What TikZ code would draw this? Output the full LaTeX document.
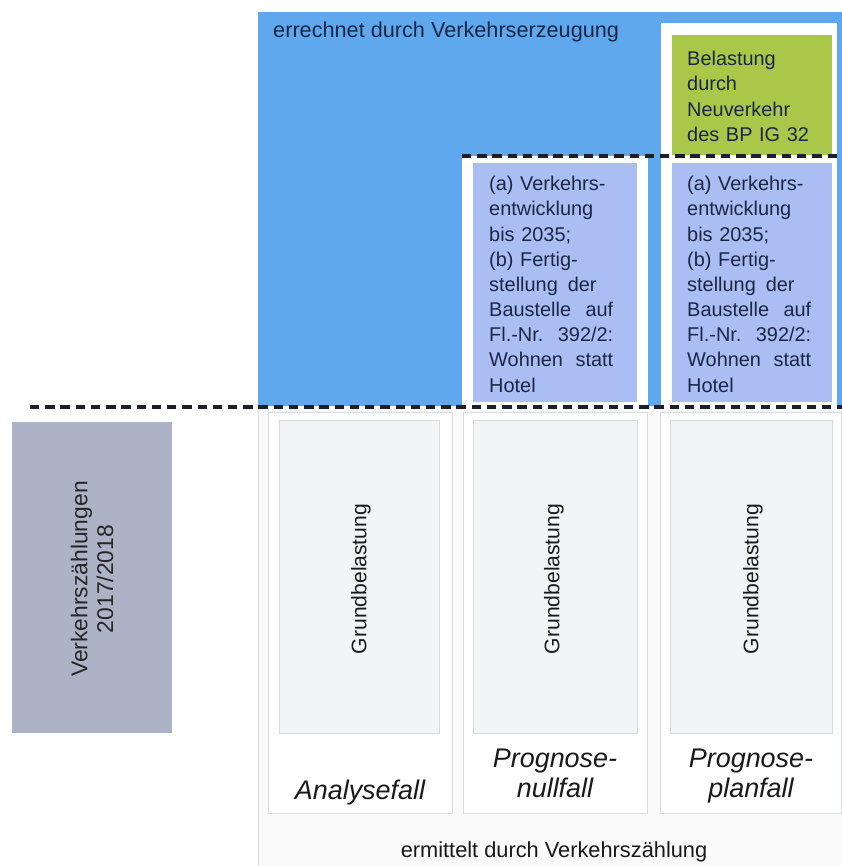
\documentclass[tikz,border=0pt]{standalone}
\usepackage{fontspec}
\setmainfont{Liberation Sans}

\definecolor{calcblue}{HTML}{5FA8EE}
\definecolor{devblue}{HTML}{AABEF3}
\definecolor{newgreen}{HTML}{A9C84A}
\definecolor{countgray}{HTML}{ADB3C6}
\definecolor{lowbg}{HTML}{FAFAFB}
\definecolor{framegray}{HTML}{D9DADD}
\definecolor{innergray}{HTML}{F3F4F6}
\definecolor{navytext}{HTML}{1A2644}
\definecolor{dashgray}{HTML}{1B1F2A}

\tikzset{
  boxtext/.style={anchor=north west, inner sep=0pt, text width=3.72cm, align=left,
    font=\fontsize{17}{21.5}\selectfont, text=navytext},
  grund/.style={rotate=90, inner sep=0pt, font=\fontsize{18}{21}\selectfont, text=black!90},
  falltext/.style={anchor=north, align=center, inner sep=0pt,
    font=\fontsize{23}{25.5}\selectfont\itshape, text=black!90},
  dashline/.style={draw=dashgray, line width=2.6pt, dash pattern=on 8pt off 5pt},
  colframe/.style={draw=framegray, line width=0.6pt, fill=white},
  colinner/.style={draw=framegray, line width=0.6pt, fill=innergray},
}

\begin{document}
\begin{tikzpicture}[x=0.03cm, y=-0.03cm]
    \useasboundingbox (0,0) rectangle (842,866);

    % counted part (below)
    \fill[lowbg] (258,408) rectangle (842,866);
    \draw[framegray, line width=0.6pt] (258,408) -- (258,866);
    \foreach \l/\r in {268/452, 463/647, 660/841}
        \draw[colframe] (\l,412) rectangle (\r,813);
    \foreach \l/\r in {279/439, 473/637, 670/832}
        \draw[colinner] (\l,420) rectangle (\r,733);
    \fill[countgray] (12,422) rectangle (172,733);

    % calculated part (above)
    \fill[calcblue] (258,12) rectangle (842,406);
    \fill[white] (661,23) rectangle (837,408);
    \fill[white] (462,156) rectangle (648,408);
    \fill[newgreen] (672,35) rectangle (832,155);
    \fill[devblue] (473,163) rectangle (637,402);
    \fill[devblue] (672,163) rectangle (832,402);

    % dashed borders
    \draw[dashline] (30,407) -- (842,407);
    \draw[dashline] (462,156) -- (842,156);

    % texts above
    \node[anchor=west, inner sep=0pt, font=\fontsize{18.5}{22}\selectfont, text=navytext]
        (calc) at (273,32) {errechnet durch Verkehrserzeugung};
    \node[boxtext] (neu) at (687,51) {Belastung\\durch\\Neuverkehr\\des BP IG 32};
    \node[boxtext] (devnull) at (489,176) {(a) Verkehrs-\\entwicklung\\bis 2035;\\(b) Fertig-\\stellung\, der\\Baustelle\hfill auf\\Fl.-Nr.\hfill 392/2:\\Wohnen\hfill statt\\Hotel};
    \node[boxtext] (devplan) at (687,176) {(a) Verkehrs-\\entwicklung\\bis 2035;\\(b) Fertig-\\stellung\, der\\Baustelle\hfill auf\\Fl.-Nr.\hfill 392/2:\\Wohnen\hfill statt\\Hotel};

    % texts below
    \node[rotate=90, align=center, inner sep=0pt, font=\fontsize{19.5}{22}\selectfont, text=black!85]
        (zaehl) at (92,579) {Verkehrszählungen\\2017/2018};
    \node[grund] (grund1) at (361,579) {Grundbelastung};
    \node[grund] (grund2) at (554,579) {Grundbelastung};
    \node[grund] (grund3) at (753,579) {Grundbelastung};
    \node[falltext] (ana) at (360,780) {Analysefall};
    \node[falltext] (null) at (555,749) {Prognose-\\nullfall};
    \node[falltext] (plan) at (751,749) {Prognose-\\planfall};
    \node[inner sep=0pt, font=\fontsize{18.6}{22}\selectfont, text=black!90]
        (ermit) at (554,852) {ermittelt durch Verkehrszählung};
\end{tikzpicture}
\end{document}
